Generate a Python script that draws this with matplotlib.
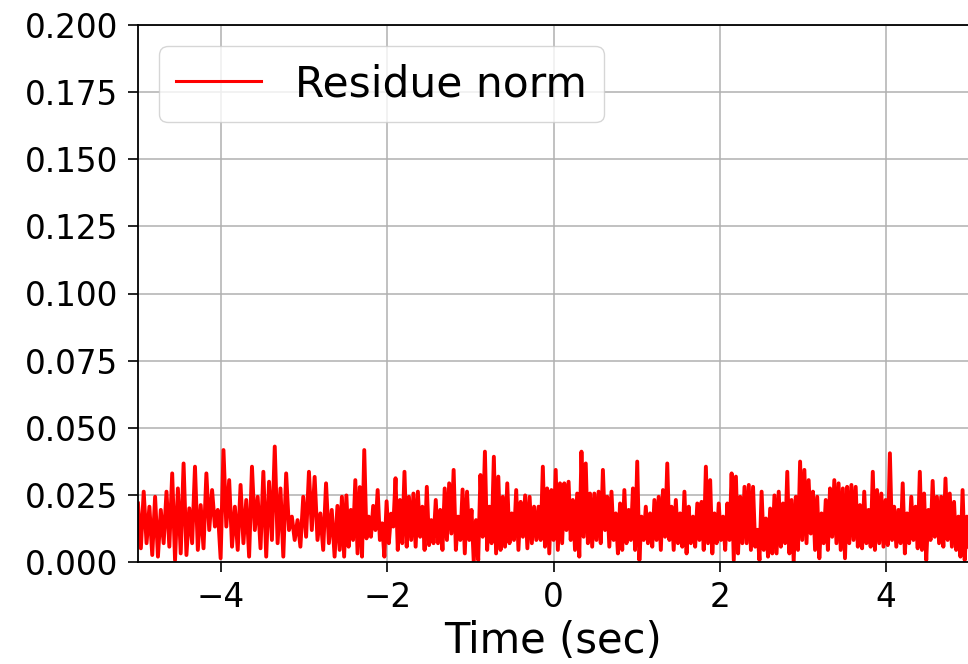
import numpy as np
import matplotlib
matplotlib.use("Agg")
import matplotlib.pyplot as plt

# residue norm, in units of 1e-3, four stretches of time
seg_bounds = [-5.0, -2.6, -0.18, 2.35, 5.0]

res_a = [21.8, 5.1, 26.2, 7.0, 20.6, 2.6, 24.3, 2.0, 19.4, 7.0, 26.2, 5.7, 33.0, 0.7,
         27.4, 3.2, 36.7, 2.6, 20.0, 7.0, 35.5, 4.5, 21.2, 5.1, 33.0, 11.9, 26.8, 13.2,
         19.4, 1.4, 41.7, 13.2, 30.5, 5.7, 20.6, 4.5, 28.7, 7.0, 23.1, 2.0, 35.5, 11.9,
         24.3, 5.1, 33.6, 2.0, 29.9, 8.2, 43.0, 7.0, 27.4, 2.0, 33.0, 11.9, 16.9, 8.2,
         15.6, 5.7, 24.3, 9.4, 33.6, 11.9, 31.7, 8.2, 18.1, 4.5, 29.3, 7.0, 19.4, 2.0]

res_b = [20.9, 4.5, 24.3, 2.0, 24.8, 5.7, 19.4, 8.2, 30.5, 3.2, 27.9, 2.0, 41.7, 8.8,
         16.9, 9.4, 20.9, 11.9, 26.8, 8.2, 14.4, 2.0, 22.6, 7.0, 18.0, 13.2, 31.2, 4.5,
         23.1, 7.0, 33.6, 5.7, 24.3, 8.2, 25.5, 5.7, 26.2, 9.4, 20.6, 4.5, 28.0, 6.3,
         15.6, 7.0, 23.1, 7.0, 19.4, 4.5, 27.4, 8.2, 29.3, 10.6, 34.3, 4.5, 16.9, 8.2,
         27.0, 3.2, 26.2, 8.2, 19.4, 0.1, 15.6, 0.7, 32.4, 9.4, 41.1, 4.5, 20.6, 7.0,
         39.2, 3.2, 31.8, 4.5, 24.3, 5.7, 29.3, 7.0, 18.1, 8.2, 26.8, 4.5, 22.4, 9.4,
         24.8, 5.1, 24.3, 7.0, 20.6, 8.2]

res_c = [20.6, 8.2, 35.5, 5.7, 27.4, 3.2, 26.8, 8.2, 34.3, 4.5, 29.3, 7.0, 29.3, 11.9,
         29.9, 8.2, 23.1, 4.5, 25.5, 2.0, 41.1, 9.4, 36.7, 7.0, 25.5, 5.7, 25.5, 8.2,
         26.2, 7.0, 34.3, 11.9, 24.3, 5.7, 26.2, 8.2, 18.1, 3.2, 21.8, 4.5, 26.8, 7.0,
         19.4, 8.2, 27.4, 4.5, 37.4, 0.7, 16.9, 8.2, 20.6, 7.0, 18.1, 5.7, 23.1, 8.2,
         24.3, 4.5, 26.8, 9.4, 36.7, 8.2, 20.6, 4.5, 23.1, 7.0, 18.1, 5.7, 26.2, 3.2,
         20.6, 7.0, 16.9, 5.7, 21.8, 8.2, 22.4, 4.5, 35.5, 7.0, 30.5, 3.2, 18.1, 7.0,
         21.8, 8.2, 16.9, 4.5, 21.8, 8.2, 33.0, 0.7, 31.8, 3.2, 24.3, 7.0, 28.0, 7.0]

res_d = [28.7, 4.5, 28.0, 5.7, 12.0, 0.7, 26.2, 4.5, 16.2, 2.0, 19.9, 3.2, 24.8, 3.2,
         26.2, 5.7, 21.8, 7.0, 33.6, 3.2, 23.1, 0.1, 24.3, 4.5, 37.4, 8.2, 34.3, 7.0,
         30.5, 10.6, 26.2, 4.5, 24.3, 1.4, 18.1, 7.0, 23.1, 4.5, 27.4, 9.4, 30.5, 7.0,
         29.3, 4.5, 27.4, 1.4, 28.0, 7.0, 28.7, 8.2, 28.0, 5.7, 21.2, 5.1, 26.2, 7.0,
         19.4, 5.7, 33.6, 4.5, 26.8, 7.0, 25.5, 5.7, 23.1, 6.3, 40.5, 8.2, 20.6, 5.7,
         19.4, 7.0, 29.3, 3.2, 18.1, 7.0, 24.3, 8.2, 20.6, 5.1, 33.6, 4.5, 25.5, 0.7,
         19.4, 8.2, 30.2, 9.4, 24.3, 7.0, 24.3, 5.7, 31.1, 8.2, 25.5, 5.7, 22.4, 4.5,
         16.9, 2.0, 26.8, 0.7, 16.9, 5.7]

segs = [res_a, res_b, res_c, res_d]
t = []
r = []
for k, s in enumerate(segs):
    tt = np.linspace(seg_bounds[k], seg_bounds[k + 1], len(s), endpoint=(k == len(segs) - 1))
    t.extend(tt)
    r.extend(np.array(s) * 1e-3)

fig = plt.figure(figsize=(9.68, 6.64), dpi=100)
ax = fig.add_axes([138 / 968, 1 - 562 / 664, (969 - 138) / 968, (562 - 25) / 664])
ax.plot(t, r, color="red", linewidth=2.8, label="Residue norm")
ax.set_xlim(-5, 5)
ax.set_ylim(0, 0.2)
ax.set_xticks([-4, -2, 0, 2, 4])
ax.set_yticks(np.arange(0, 0.201, 0.025))
ax.grid(True, color="#b0b0b0", linewidth=1.1)
ax.tick_params(labelsize=23.5, length=7, width=1.2, pad=7)
for sp in ax.spines.values():
    sp.set_linewidth(1.3)
ax.set_xlabel("Time (sec)", fontsize=30, labelpad=4)
leg = ax.legend(loc="upper left", fontsize=30.5, handlelength=2.0, borderaxespad=0.5)
for ln in leg.get_lines():
    ln.set_linewidth(2.2)
fig.savefig("out.png", dpi=100)
